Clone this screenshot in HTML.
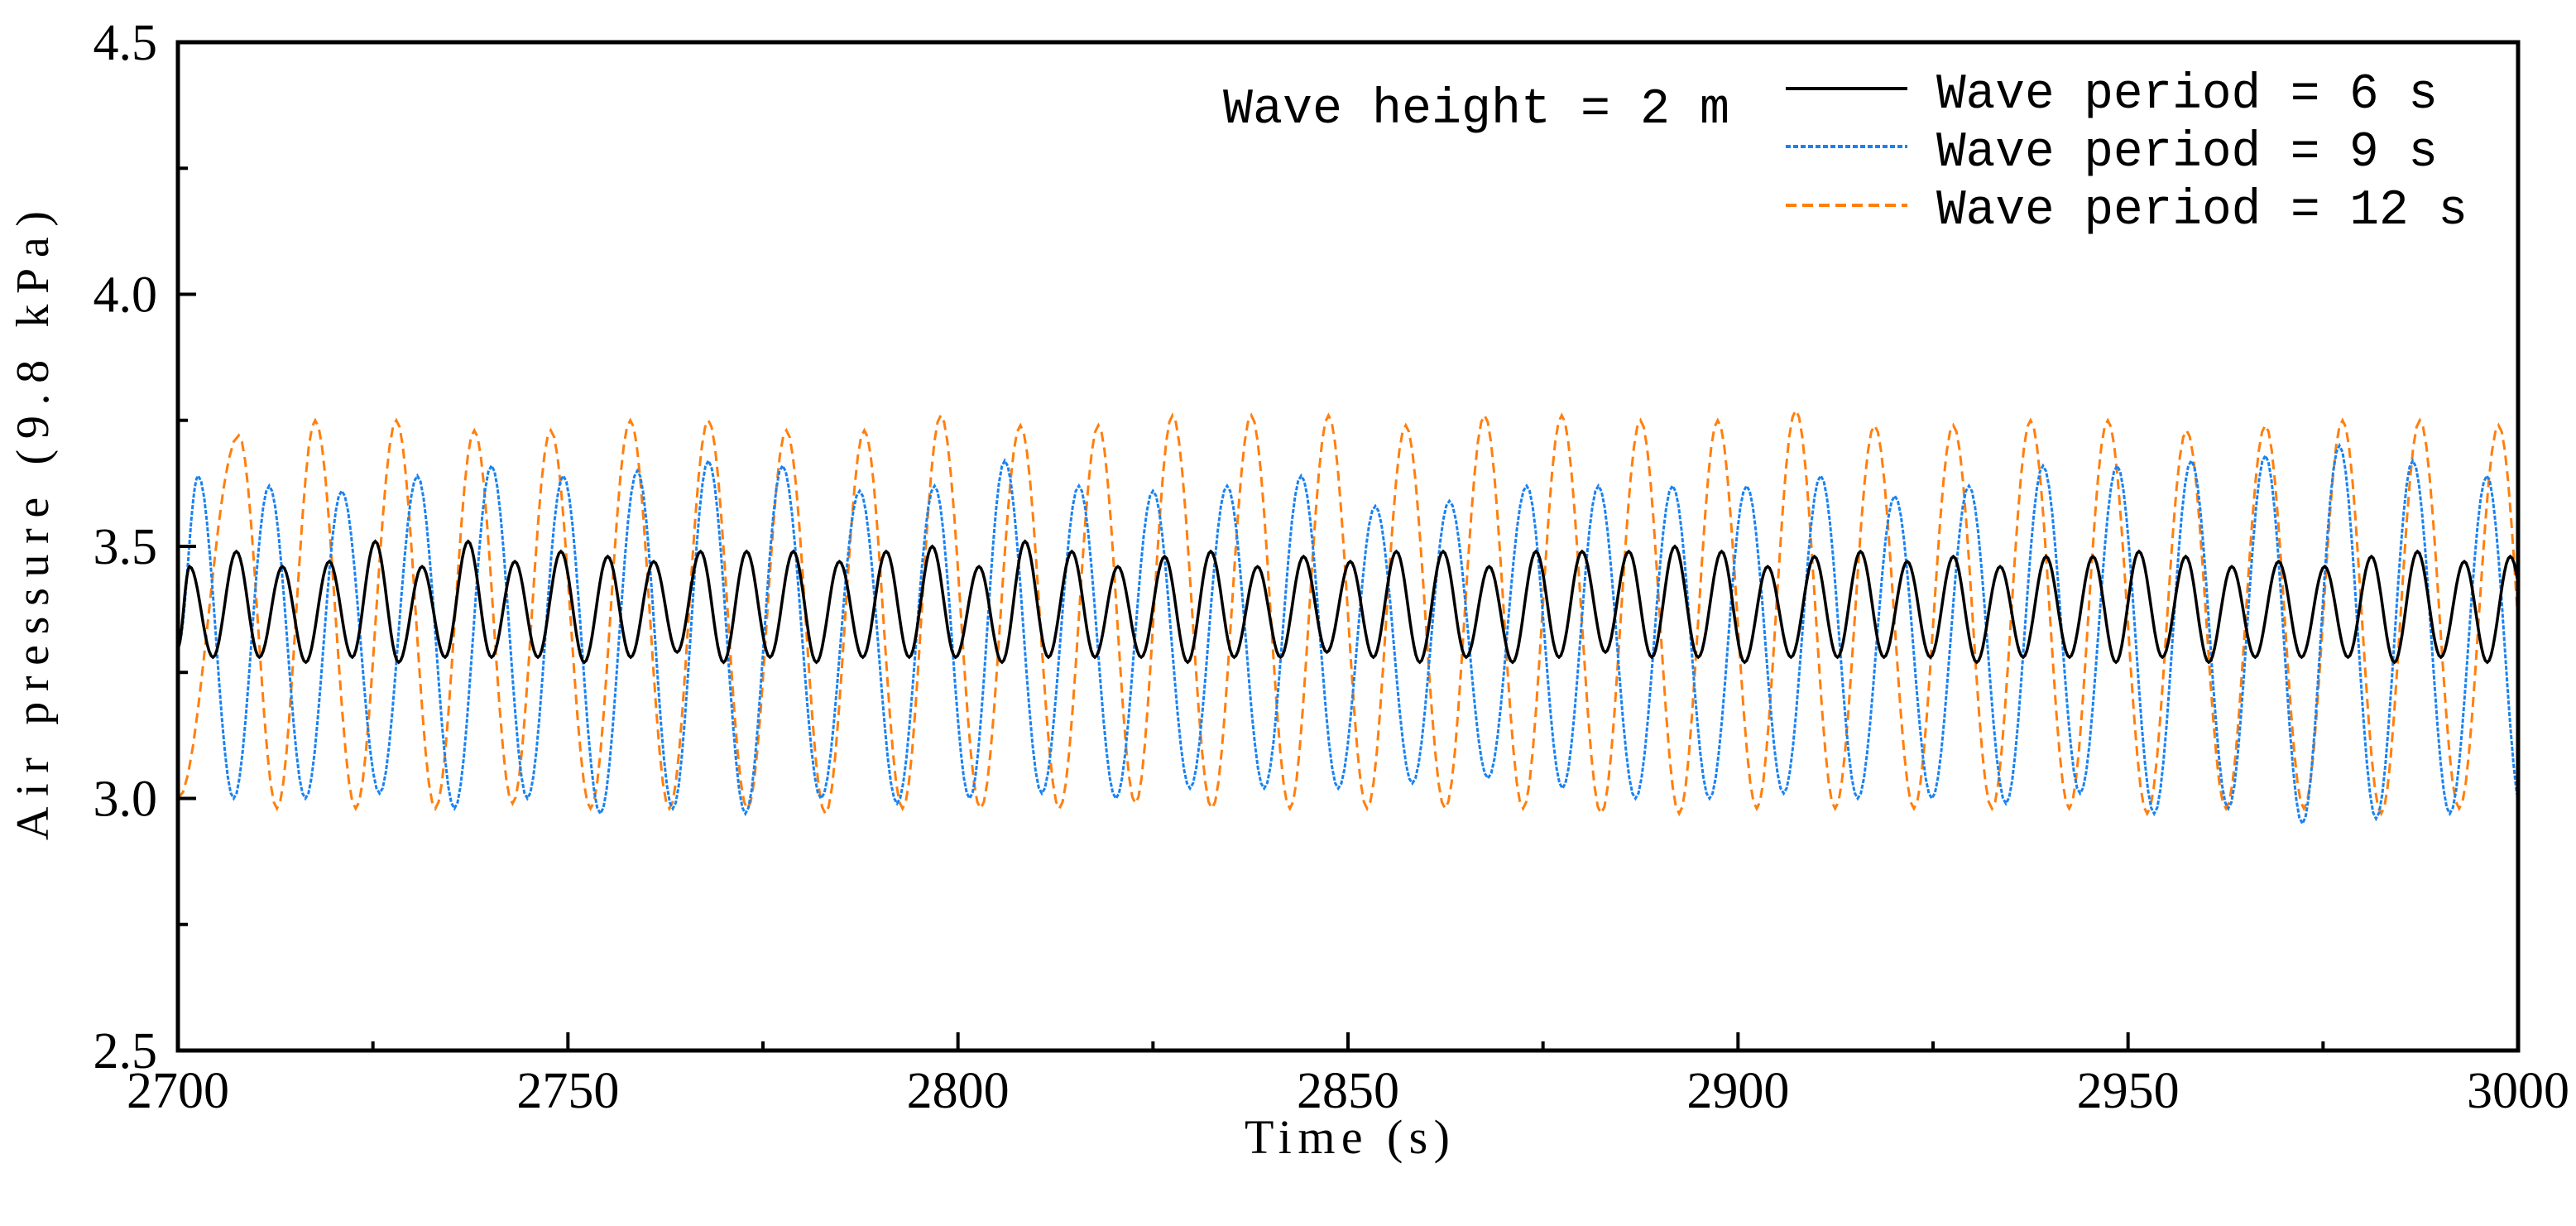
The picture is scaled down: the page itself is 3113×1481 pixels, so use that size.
<!DOCTYPE html>
<html><head><meta charset="utf-8"><style>
html,body{margin:0;padding:0;background:#fff;}
svg{display:block;}
</style></head><body>
<svg id="chart" width="3113" height="1481" viewBox="0 0 3113 1481" xmlns="http://www.w3.org/2000/svg">
<defs><clipPath id="pc"><rect x="215" y="51" width="2828" height="1218"/></clipPath></defs>
<g id="series" clip-path="url(#pc)"></g>
<rect x="215" y="51" width="2828" height="1218" fill="none" stroke="#000" stroke-width="5"/>
<g id="axes"></g>
<text x="58" y="635" transform="rotate(-90 58 635)" text-anchor="middle" font-family="Liberation Serif, serif" font-size="56" textLength="760" lengthAdjust="spacing">Air pressure (9.8 kPa)</text>
<text x="1628" y="1393" text-anchor="middle" font-family="Liberation Serif, serif" font-size="58" textLength="248" lengthAdjust="spacing">Time (s)</text>
<g font-family="Liberation Mono, monospace" font-size="60">
<text x="1478" y="148" textLength="612" lengthAdjust="spacingAndGlyphs">Wave height = 2 m</text>
<g><line x1="2158" y1="107" x2="2305" y2="107" stroke="#000" stroke-width="4"/><text x="2340" y="130" textLength="606" lengthAdjust="spacingAndGlyphs">Wave period = 6 s</text></g>
<g><line x1="2158" y1="177" x2="2305" y2="177" stroke="#1a82f0" stroke-width="4" stroke-dasharray="6,3"/><text x="2340" y="200" textLength="606" lengthAdjust="spacingAndGlyphs">Wave period = 9 s</text></g>
<g><line x1="2158" y1="248" x2="2305" y2="248" stroke="#ff7f0e" stroke-width="4" stroke-dasharray="13,7"/><text x="2340" y="270" textLength="642" lengthAdjust="spacingAndGlyphs">Wave period = 12 s</text></g>
</g>
</svg>
<script>
const xTicks=[2700,2750,2800,2850,2900,2950,3000];
const yTicks=[2.5,3.0,3.5,4.0,4.5];
// Orange (T=12 s) extrema
const orangePeakT=[2707.8,2717.6,2728,2738,2747.8,2758,2768,2778,2788,2797.8,2808,2818,2827.5,2837.6,2847.5,2857.4,2867.5,2877.4,2887.5,2897.4,2907.4,2917.5,2927.6,2937.5,2947.4,2957.5,2967.6,2977.5,2987.4,2997.5];
const orangePeakV=[3.72,3.75,3.75,3.73,3.73,3.75,3.75,3.73,3.73,3.76,3.74,3.74,3.76,3.76,3.76,3.74,3.76,3.76,3.75,3.75,3.77,3.74,3.74,3.75,3.75,3.73,3.74,3.75,3.75,3.74];
const orangeTroughV=[2.98,2.98,2.98,2.99,2.98,2.98,2.98,2.97,2.98,2.98,2.98,2.99,2.98,2.98,2.98,2.98,2.98,2.97,2.97,2.98,2.98,2.98,2.98,2.98,2.97,2.98,2.98,2.97,2.98];
const orangeStart=3.00;
// Blue (T=9 s) extrema
const bluePeakT=[2702.6,2711.7,2721,2730.7,2740.2,2749.4,2758.9,2768,2777.5,2787.4,2797,2806,2815.5,2825,2834.5,2844,2853.5,2863,2872.9,2882.1,2891.6,2901.1,2910.6,2920.1,2929.6,2939.1,2948.6,2958.1,2967.6,2977.1,2986.5,2996];
const bluePeakV=[3.64,3.62,3.61,3.64,3.66,3.64,3.65,3.67,3.66,3.61,3.62,3.67,3.62,3.61,3.62,3.64,3.58,3.59,3.62,3.62,3.62,3.62,3.64,3.60,3.62,3.66,3.66,3.67,3.68,3.70,3.67,3.64];
const blueTroughV=[3.00,3.00,3.01,2.98,3.00,2.97,2.98,2.97,3.00,2.99,3.00,3.01,3.00,3.02,3.02,3.02,3.03,3.04,3.02,3.00,3.00,3.01,3.00,3.00,2.99,3.01,2.97,2.98,2.95,2.96,2.97];
const blueStart=3.30;
// Black (T=6 s) extrema
const blackPeakT=[2701.5,2707.5,2713.4,2719.4,2725.3,2731.3,2737.2,2743.2,2749.1,2755.1,2761,2767,2772.9,2778.9,2784.8,2790.8,2796.7,2802.7,2808.6,2814.6,2820.5,2826.5,2832.4,2838.4,2844.3,2850.3,2856.2,2862.2,2868.1,2874.1,2880,2886,2891.9,2897.9,2903.8,2909.8,2915.7,2921.7,2927.6,2933.6,2939.5,2945.5,2951.4,2957.4,2963.3,2969.3,2975.2,2981.2,2987.1,2993.1,2999];
const blackPeakV=[3.46,3.49,3.46,3.47,3.51,3.46,3.51,3.47,3.49,3.48,3.47,3.49,3.49,3.49,3.47,3.49,3.50,3.46,3.51,3.49,3.46,3.48,3.49,3.46,3.48,3.47,3.49,3.49,3.46,3.49,3.49,3.49,3.50,3.49,3.46,3.48,3.49,3.47,3.48,3.46,3.48,3.48,3.49,3.48,3.46,3.47,3.46,3.48,3.49,3.47,3.48];
const blackTroughV=[3.28,3.28,3.27,3.28,3.27,3.28,3.28,3.28,3.27,3.28,3.29,3.27,3.28,3.27,3.28,3.28,3.28,3.27,3.28,3.28,3.28,3.27,3.28,3.28,3.29,3.28,3.27,3.28,3.27,3.28,3.29,3.28,3.28,3.27,3.28,3.28,3.28,3.28,3.27,3.28,3.28,3.27,3.28,3.27,3.28,3.28,3.28,3.27,3.28,3.27];
const blackStart=3.30;

const L=215,R=3043,T=51,B=1269;
const X=t=>L+(t-2700)/300*(R-L);
const Y=v=>B-(v-2.5)/2*(B-T);
const NS='http://www.w3.org/2000/svg';
function el(tag,attrs,parent){const e=document.createElementNS(NS,tag);for(const k in attrs)e.setAttribute(k,attrs[k]);parent.appendChild(e);return e;}
const axes=document.getElementById('axes');
xTicks.forEach((t,i)=>{
  const ln=el('line',{x1:X(t),y1:B,x2:X(t),y2:B-22,stroke:'#000','stroke-width':4},axes);
  
  
  if(i<xTicks.length-1){const m=el('line',{x1:X(t+25),y1:B,x2:X(t+25),y2:B-11,stroke:'#000','stroke-width':4},axes);
  
  }
  const tx=el('text',{x:X(t),y:1338,'text-anchor':'middle','font-family':'Liberation Serif, serif','font-size':62},axes);
  tx.textContent=t;
  
  
});
yTicks.forEach((v,i)=>{
  const ln=el('line',{x1:L,y1:Y(v),x2:L+22,y2:Y(v),stroke:'#000','stroke-width':4},axes);
  
  
  if(i<yTicks.length-1){const m=el('line',{x1:L,y1:Y(v+0.25),x2:L+12,y2:Y(v+0.25),stroke:'#000','stroke-width':4},axes);
  
  }
  const tx=el('text',{x:190,y:Y(v)+21,'text-anchor':'end','font-family':'Liberation Serif, serif','font-size':62},axes);
  tx.textContent=v.toFixed(1);
  
  
});
function build(peakT,peakV,troughV,start){
  const pts=[[2700,start]];
  const half=(peakT[1]-peakT[0])/2;
  pts.push([peakT[0],peakV[0]]);
  for(let i=0;i<peakT.length;i++){
    if(i>0)pts.push([peakT[i],peakV[i]]);
    const tv=i<troughV.length?troughV[i]:troughV[troughV.length-1];
    const nt=i<peakT.length-1?(peakT[i]+peakT[i+1])/2:peakT[i]+half;
    pts.push([nt,tv]);
  }
  let d='';
  for(let k=0;k<pts.length-1;k++){
    const [t0,v0]=pts[k],[t1,v1]=pts[k+1];
    for(let s=0;s<=12;s++){
      const f=s/12,w=(1-Math.cos(Math.PI*f))/2;
      const t=t0+(t1-t0)*f,v=v0+(v1-v0)*w;
      d+=(d?'L':'M')+X(t).toFixed(1)+','+Y(v).toFixed(1);
    }
  }
  return d;
}
const g=document.getElementById('series');
const po=el('path',{d:build(orangePeakT,orangePeakV,orangeTroughV,orangeStart),fill:'none',stroke:'#ff7f0e','stroke-width':3,'stroke-dasharray':'12,7'},g);


const pb=el('path',{d:build(bluePeakT,bluePeakV,blueTroughV,blueStart),fill:'none',stroke:'#1a82f0','stroke-width':3,'stroke-dasharray':'5,2'},g);


const pk=el('path',{d:build(blackPeakT,blackPeakV,blackTroughV,blackStart),fill:'none',stroke:'#000','stroke-width':3.5},g);


</script>
</body></html>
